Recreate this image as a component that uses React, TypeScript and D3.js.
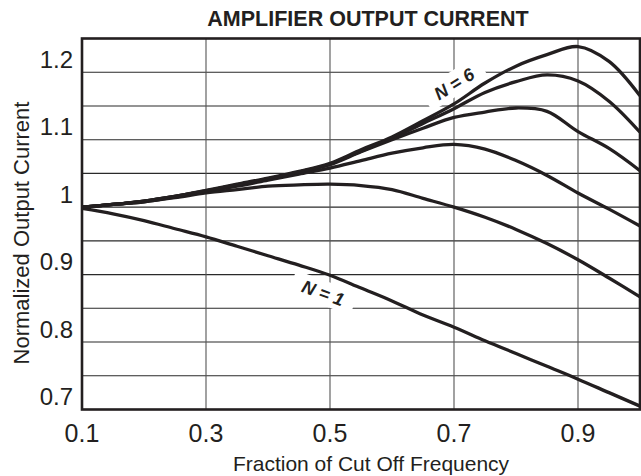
import React, { useRef, useEffect } from "react";
import * as d3 from "d3";

// fraction of cut off frequency (shared sample points)
const freq = [0.1, 0.15, 0.2, 0.25, 0.3, 0.35, 0.4, 0.45, 0.5, 0.55, 0.6, 0.65, 0.7, 0.75, 0.8, 0.85, 0.9, 0.95, 1.0];

// normalized output current, one array per N
const n1 = [0.998, 0.99, 0.98, 0.968, 0.956, 0.942, 0.928, 0.914, 0.899, 0.88, 0.861, 0.84, 0.822, 0.802, 0.783, 0.764, 0.745, 0.725, 0.705];
const n2 = [1.0, 1.004, 1.008, 1.014, 1.021, 1.026, 1.031, 1.033, 1.034, 1.032, 1.026, 1.013, 1.0, 0.985, 0.967, 0.946, 0.922, 0.895, 0.867];
const n3 = [1.0, 1.004, 1.008, 1.015, 1.023, 1.031, 1.04, 1.049, 1.058, 1.069, 1.08, 1.088, 1.093, 1.086, 1.069, 1.047, 1.021, 0.997, 0.972];
const n4 = [1.0, 1.004, 1.009, 1.016, 1.024, 1.033, 1.042, 1.052, 1.063, 1.082, 1.1, 1.117, 1.133, 1.141, 1.147, 1.142, 1.112, 1.087, 1.054];
const n5 = [1.0, 1.004, 1.009, 1.016, 1.024, 1.033, 1.042, 1.052, 1.064, 1.083, 1.102, 1.124, 1.146, 1.17, 1.186, 1.196, 1.187, 1.157, 1.111];
const n6 = [1.0, 1.004, 1.009, 1.016, 1.025, 1.034, 1.043, 1.053, 1.065, 1.085, 1.104, 1.128, 1.153, 1.184, 1.209, 1.226, 1.238, 1.216, 1.165];
const series = [n1, n2, n3, n4, n5, n6];

const xTicks = [0.1, 0.3, 0.5, 0.7, 0.9];
const xTickLabels = ["0.1", "0.3", "0.5", "0.7", "0.9"];
const yTicks = [0.7, 0.8, 0.9, 1.0, 1.1, 1.2];
const yTickLabels = ["0.7", "0.8", "0.9", "1", "1.1", "1.2"];
const yGrid = [0.75, 0.8, 0.85, 0.9, 0.95, 1.0, 1.05, 1.1, 1.15, 1.2];
const xGrid = [0.3, 0.5, 0.7, 0.9];

// curve labels: text, position in data units, angle
const curveLabels = [
  { text: "N = 6", f: 0.7, v: 1.183, angle: -32 },
  { text: "N = 1", f: 0.489, v: 0.873, angle: 20 },
];

const ink = "#231f20";
const font = "Arial, 'Liberation Sans', Helvetica, sans-serif";

const App = () => {
  const svgRef = useRef<SVGSVGElement>(null);

  useEffect(() => {
    const svg = d3.select(svgRef.current);
    svg.selectAll("*").remove();

    const x = d3.scaleLinear().domain([0.1, 1.0]).range([82, 640]);
    const y = d3.scaleLinear().domain([0.7, 1.25]).range([409.5, 38.5]);

    // grid
    svg
      .append("g")
      .selectAll("line")
      .data(yGrid)
      .join("line")
      .attr("x1", x(0.1))
      .attr("x2", x(1.0))
      .attr("y1", (d) => y(d))
      .attr("y2", (d) => y(d))
      .attr("stroke", "#2a2a2a")
      .attr("stroke-width", 1.1);

    svg
      .append("g")
      .selectAll("line")
      .data(xGrid)
      .join("line")
      .attr("x1", (d) => x(d))
      .attr("x2", (d) => x(d))
      .attr("y1", y(1.25))
      .attr("y2", y(0.7))
      .attr("stroke", "#555")
      .attr("stroke-width", 1.1);

    // white boxes behind the curve labels
    const lab = svg
      .append("g")
      .selectAll("g")
      .data(curveLabels)
      .join("g")
      .attr("transform", (d) => `translate(${x(d.f)},${y(d.v)}) rotate(${d.angle})`);

    lab
      .append("rect")
      .attr("x", -33)
      .attr("y", -12)
      .attr("width", 66)
      .attr("height", 24)
      .attr("fill", "#fff");

    lab
      .append("text")
      .attr("text-anchor", "middle")
      .attr("dy", "0.36em")
      .attr("font-family", font)
      .attr("font-size", 18)
      .attr("font-style", "italic")
      .attr("font-weight", "bold")
      .attr("fill", ink)
      .text((d) => d.text);

    // curves
    const line = d3
      .line<number>()
      .x((d, i) => x(freq[i]))
      .y((d) => y(d))
      .curve(d3.curveCatmullRom.alpha(0.5));

    svg
      .append("g")
      .selectAll("path")
      .data(series)
      .join("path")
      .attr("fill", "none")
      .attr("stroke", ink)
      .attr("stroke-width", 3.3)
      .attr("stroke-linejoin", "round")
      .attr("d", (d) => line(d));

    // frame
    svg
      .append("rect")
      .attr("x", x(0.1))
      .attr("y", y(1.25))
      .attr("width", x(1.0) - x(0.1))
      .attr("height", y(0.7) - y(1.25))
      .attr("fill", "none")
      .attr("stroke", ink)
      .attr("stroke-width", 2.6);

    // tick labels
    svg
      .append("g")
      .selectAll("text")
      .data(xTicks)
      .join("text")
      .attr("x", (d) => x(d))
      .attr("y", 442)
      .attr("text-anchor", "middle")
      .attr("font-family", font)
      .attr("font-size", 25)
      .attr("fill", ink)
      .text((d, i) => xTickLabels[i]);

    svg
      .append("g")
      .selectAll("text")
      .data(yTicks)
      .join("text")
      .attr("x", 73)
      .attr("y", (d) => y(d) - 4.5)
      .attr("text-anchor", "end")
      .attr("font-family", font)
      .attr("font-size", 24)
      .attr("fill", ink)
      .text((d, i) => yTickLabels[i]);

    // titles
    svg
      .append("text")
      .attr("x", 368)
      .attr("y", 26)
      .attr("text-anchor", "middle")
      .attr("font-family", font)
      .attr("font-size", 21.5)
      .attr("font-weight", "bold")
      .attr("fill", ink)
      .text("AMPLIFIER OUTPUT CURRENT");

    svg
      .append("text")
      .attr("x", 371)
      .attr("y", 471)
      .attr("text-anchor", "middle")
      .attr("font-family", font)
      .attr("font-size", 21)
      .attr("fill", ink)
      .text("Fraction of Cut Off Frequency");

    svg
      .append("text")
      .attr("transform", "translate(28.5,233) rotate(-90)")
      .attr("text-anchor", "middle")
      .attr("font-family", font)
      .attr("font-size", 22)
      .attr("fill", ink)
      .text("Normalized Output Current");
  }, []);

  return (
    <svg
      ref={svgRef}
      width={641}
      height={476}
      style={{ position: "absolute", left: 0, top: 0, background: "#fff" }}
    ></svg>
  );
};

export default App;
